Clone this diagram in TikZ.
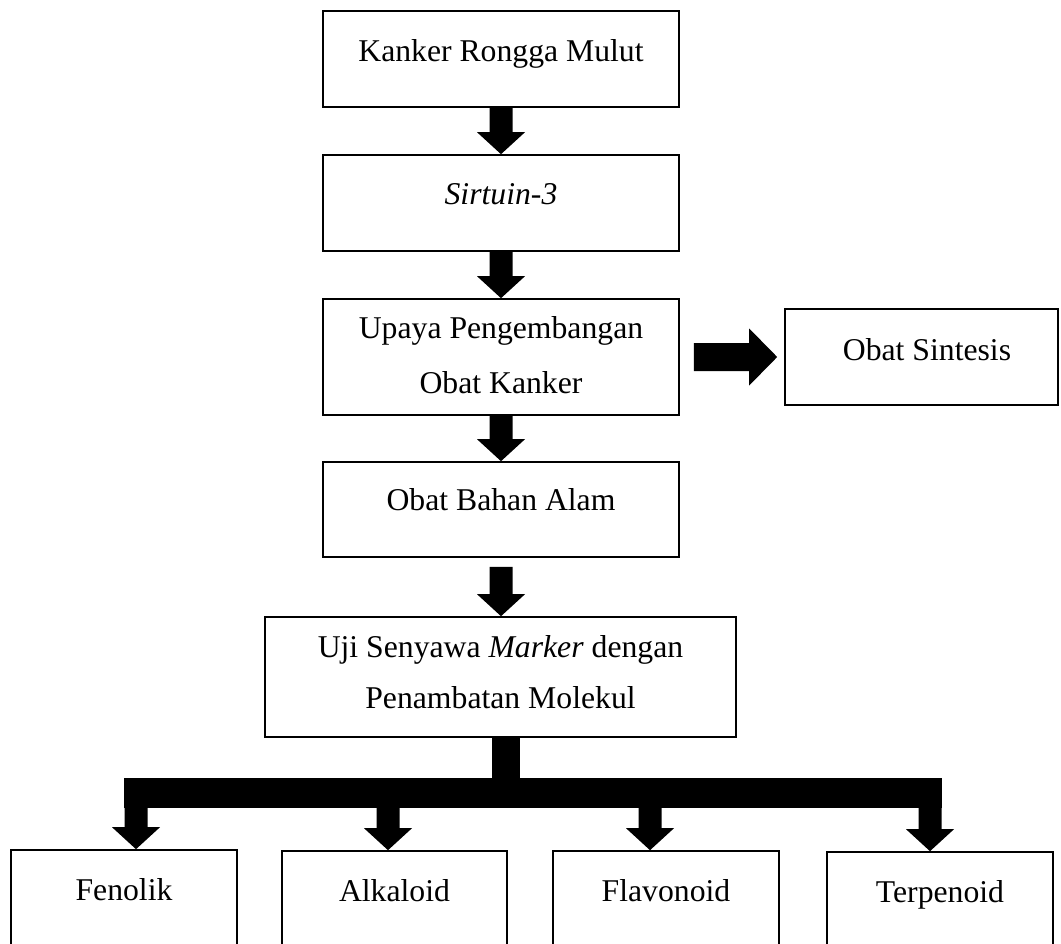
\documentclass[tikz,border=0pt]{standalone}
\usepackage{fontspec}
\setmainfont{Liberation Serif}
\usetikzlibrary{calc}
\newcommand\bdarrow[2]{% #1 start, #2 tip (vertical, downward)
  \fill let \p1=(#1), \p2=(#2) in
    (\x2-11.5pt,\y1) -- (\x2+11.5pt,\y1) -- (\x2+11.5pt,\y2+22pt) --
    (\x2+24pt,\y2+22pt) -- (\x2,\y2) -- (\x2-24pt,\y2+22pt) --
    (\x2-11.5pt,\y2+22pt) -- cycle;}
\newcommand\brarrow[2]{% #1 start, #2 tip (horizontal, rightward)
  \fill let \p1=(#1), \p2=(#2) in
    (\x1,\y2+14pt) -- (\x2-28pt,\y2+14pt) -- (\x2-28pt,\y2+28.5pt) --
    (\x2,\y2) -- (\x2-28pt,\y2-28.5pt) -- (\x2-28pt,\y2-14pt) --
    (\x1,\y2-14pt) -- cycle;}
\begin{document}
\begin{tikzpicture}[x=1pt,y=-1pt,
  box/.style={draw,line width=1.6pt,inner sep=0pt,rectangle},
  lbl/.style={font=\fontsize{31.7}{38}\selectfont,anchor=base,inner sep=0pt}]
\useasboundingbox (0,0) rectangle (1061,944);
\clip (0,0) rectangle (1061,944);
\fill[white] (0,0) rectangle (1061,944);

% boxes
\node[box,minimum width=356,minimum height=96] (b1) at (501,59) {};
\node[box,minimum width=356,minimum height=96] (b2) at (501,203) {};
\node[box,minimum width=356,minimum height=116] (b3) at (501,357) {};
\node[box,minimum width=356,minimum height=95] (b4) at (501,509.5) {};
\node[box,minimum width=471,minimum height=120] (b5) at (500.5,677) {};
\node[box,minimum width=273,minimum height=96] (bs) at (921.5,357) {};
\node[box,minimum width=226,minimum height=130] (f1) at (124,915) {};
\node[box,minimum width=225,minimum height=130] (f2) at (394.5,916) {};
\node[box,minimum width=226,minimum height=130] (f3) at (666,916) {};
\node[box,minimum width=226,minimum height=130] (f4) at (940,917) {};

% texts
\node[lbl] (t1) at (501,62) {Kanker Rongga Mulut};
\node[lbl] (t2) at (501,205) {\textit{Sirtuin-3}};
\node[lbl] (t3a) at (501,338) {Upaya Pengembangan};
\node[lbl] (t3b) at (501,393) {Obat Kanker};
\node[lbl] (t4) at (501,510) {Obat Bahan Alam};
\node[lbl] (t5a) at (500.5,657) {Uji Senyawa \textit{Marker} dengan};
\node[lbl] (t5b) at (500.5,708) {Penambatan Molekul};
\node[lbl] (ts) at (927,360) {Obat Sintesis};
\node[lbl] (tf1) at (124,900) {Fenolik};
\node[lbl] (tf2) at (394.5,901) {Alkaloid};
\node[lbl] (tf3) at (666,901) {Flavonoid};
\node[lbl] (tf4) at (940,902) {Terpenoid};

% main arrows
\bdarrow{b1.south}{b2.north}
\bdarrow{b2.south}{b3.north}
\bdarrow{b3.south}{b4.north}
\bdarrow{[yshift=-9pt]b4.south}{b4.south |- b5.north}
\brarrow{[xshift=14pt]b3.east}{[xshift=-7pt]bs.west}

% branching
\coordinate (tr) at (506,793);
\coordinate (bl) at (124,793);
\coordinate (br) at (942,793);
\fill ($(b5.south -| tr)+(-14,0)$) rectangle ($(tr)+(14,0)$);
\fill ($(bl)+(0,-15)$) rectangle ($(br)+(0,15)$);
\coordinate (j1) at (136,807);
\coordinate (j2) at (388,807);
\coordinate (j3) at (650,807);
\coordinate (j4) at (930,807);
\bdarrow{j1}{j1 |- f1.north}
\bdarrow{j2}{j2 |- f2.north}
\bdarrow{j3}{j3 |- f3.north}
\bdarrow{j4}{j4 |- f4.north}
\end{tikzpicture}
\end{document}
